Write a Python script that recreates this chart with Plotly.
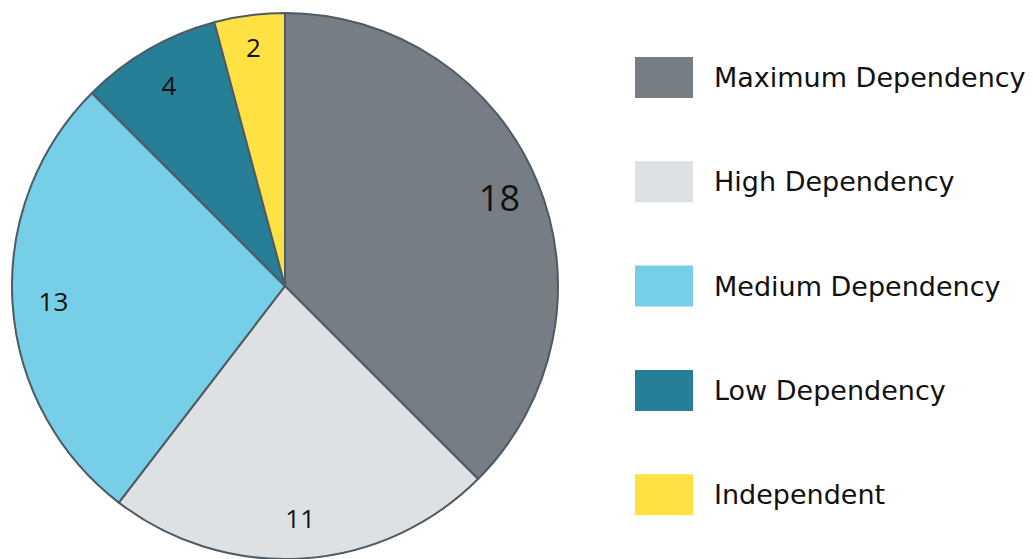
import plotly.graph_objects as go

categories = ["Maximum Dependency", "High Dependency", "Medium Dependency", "Low Dependency", "Independent"]
values = [18, 11, 13, 4, 2]
colors = ["#767d84", "#dee1e4", "#76cfe6", "#267f96", "#fee243"]
label_sizes = [36, 26, 26, 26, 26]

W, H = 1033, 559
dom = dict(x=[12 / W, 558 / W], y=[0, 546 / H])

fig = go.Figure()
# filled pie (no text)
fig.add_trace(go.Pie(
    labels=categories,
    values=values,
    sort=False,
    direction="clockwise",
    rotation=0,
    marker=dict(colors=colors, line=dict(color="#4e5a64", width=2)),
    textinfo="none",
    domain=dom,
    showlegend=False,
    hoverinfo="label+value",
))
# transparent ring carrying the value labels near the rim
fig.add_trace(go.Pie(
    labels=categories,
    values=values,
    sort=False,
    direction="clockwise",
    rotation=0,
    hole=0.7,
    marker=dict(colors=["rgba(0,0,0,0)"] * len(values), line=dict(width=0)),
    textinfo="value",
    textposition="inside",
    insidetextorientation="horizontal",
    textfont=dict(family="Open Sans", color="#111111", size=label_sizes),
    domain=dom,
    showlegend=False,
    hoverinfo="skip",
))

# custom legend with large swatches
shapes = []
annotations = []
for i, (cat, col) in enumerate(zip(categories, colors)):
    top = 57 + i * 104.3
    shapes.append(dict(type="rect", xref="paper", yref="paper",
                       x0=635 / W, x1=693 / W,
                       y0=1 - (top + 41) / H, y1=1 - top / H,
                       fillcolor=col, line=dict(width=0)))
    annotations.append(dict(text=cat, xref="paper", yref="paper",
                            x=712 / W, y=1 - (top + 20.5) / H,
                            xanchor="left", yanchor="middle", showarrow=False,
                            font=dict(family="DejaVu Sans", size=27, color="#111111")))

fig.update_layout(
    width=W, height=H,
    margin=dict(l=0, r=0, t=0, b=0),
    paper_bgcolor="white",
    plot_bgcolor="white",
    shapes=shapes,
    annotations=annotations,
)

fig.write_html("out.html", config={"displayModeBar": False},
               post_script="document.body.style.margin='0';")
